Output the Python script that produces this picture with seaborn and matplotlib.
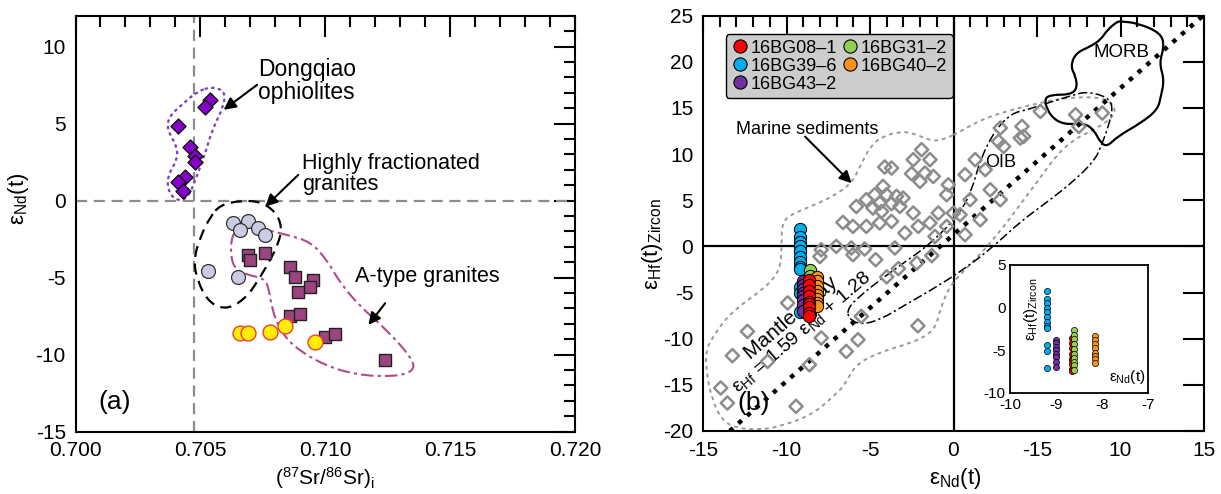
import matplotlib
matplotlib.use("Agg")
import matplotlib.pyplot as plt
import seaborn as sns
from matplotlib.path import Path
from matplotlib.patches import PathPatch
from matplotlib.lines import Line2D
from matplotlib.ticker import MultipleLocator

# ---------------- Panel (a) data ----------------
dq_sr = [0.7054, 0.7052, 0.7041, 0.7046, 0.7048, 0.7048, 0.7044, 0.7041, 0.7043]
dq_nd = [6.5, 6.1, 4.85, 3.5, 2.9, 2.5, 1.55, 1.2, 0.65]

hfg_sr = [0.7063, 0.7069, 0.7066, 0.7073, 0.7076, 0.7053, 0.7065]
hfg_nd = [-1.45, -1.3, -1.9, -1.8, -2.25, -4.55, -4.95]

atype_sr = [0.7069, 0.7070, 0.7076, 0.7086, 0.7088, 0.7095, 0.7094, 0.7089,
            0.7086, 0.7090, 0.7100, 0.7104, 0.7124]
atype_nd = [-3.5, -3.85, -3.4, -4.3, -4.95, -5.15, -5.6, -5.95,
            -7.5, -7.35, -8.85, -8.65, -10.35]

yel_sr = [0.7066, 0.7069, 0.7078, 0.7084, 0.7096]
yel_nd = [-8.6, -8.6, -8.5, -8.15, -9.15]

dq_env_sr = [0.70547, 0.7060, 0.70593, 0.70547, 0.7052, 0.7048, 0.70453, 0.70413,
             0.70373, 0.70367, 0.70407, 0.70407, 0.70367, 0.70373, 0.70433, 0.70487]
dq_env_nd = [7.40, 7.08, 6.10, 4.59, 3.08, 1.34, 0.26, -0.06,
             0.48, 1.56, 2.64, 3.51, 4.59, 5.45, 6.32, 7.08]

hfg_env_sr = [0.7058, 0.7066, 0.7074, 0.7080, 0.70827, 0.70813, 0.7078, 0.7074,
              0.70693, 0.70633, 0.7058, 0.70527, 0.70487, 0.70473, 0.7050, 0.7054]
hfg_env_nd = [-0.28, 0.0, -0.06, -0.71, -1.69, -2.77, -3.85, -4.94,
              -6.12, -6.88, -6.99, -6.45, -5.15, -3.85, -2.34, -1.04]

at_env_sr = [0.70633, 0.70687, 0.70767, 0.70847, 0.7094, 0.71007, 0.7106, 0.7114,
             0.71247, 0.71353, 0.71353, 0.71273, 0.71127, 0.70993, 0.70873, 0.7082,
             0.70787, 0.70773, 0.70753, 0.70687, 0.70633, 0.7062, 0.70627]
at_env_nd = [-2.12, -1.69, -1.90, -2.23, -2.66, -3.85, -5.36, -6.88,
             -8.40, -10.34, -11.10, -11.43, -11.32, -10.67, -9.48, -8.40,
             -7.10, -5.58, -5.04, -4.82, -4.39, -3.20, -2.44]

sr_ref_line = 0.70475

# ---------------- Panel (b) data ----------------
sed_nd = [-1.91, -1.41, -2.41, -4.12, -3.71, -2.51, -1.71, -1.21, -2.01, -0.31,
          -4.22, -4.72, -4.01, -3.41, -3.02, -0.41, -5.22, -4.42, -3.71, -3.21,
          -4.82, -4.31, -5.82, -2.41, -0.91, -6.62, -6.02, -5.22, -4.42, -3.71,
          -2.91, -2.11, -1.41, -0.41, -7.92, -7.02, -6.12, -5.32, -3.51, -1.11,
          -0.01, 5.20, 7.31, 8.91, 7.51, 4.10, 2.80, 4.20, 2.70, 3.00,
          4.00, 1.30, 1.90, 0.69, 2.20, 2.80, 0.99, 0.39, 1.60, 0.69,
          -9.93, -12.34, -11.13, -13.24, -8.63, -7.92, -6.42, -5.72, -5.52, -6.02,
          -13.94, -13.54, -9.43, -8.0, -4.66, -3.3, -2.2, -1.3, -2.13, -4.0]
sed_hf = [10.48, 9.40, 9.40, 8.60, 8.49, 7.88, 7.95, 7.58, 7.04, 6.68,
          6.50, 5.60, 5.60, 5.42, 5.24, 5.60, 5.06, 4.70, 4.63, 4.33,
          4.16, 3.79, 4.33, 3.62, 3.62, 2.60, 2.17, 2.17, 2.54, 2.71,
          1.45, 2.17, 2.54, 2.17, -0.36, 0.0, -0.17, -0.28, -0.17, 1.08,
          3.62, 14.63, 14.27, 14.45, 13.0, 13.0, 12.83, 11.92, 11.38, 10.83,
          11.74, 9.40, 8.32, 7.77, 6.14, 5.06, 5.06, 3.43, 2.89, 1.27,
          -6.13, -9.21, -12.46, -11.84, -12.82, -9.92, -11.38, -10.11, -7.58, -0.90,
          -15.34, -16.97, -17.33, -1.1, -1.44, -2.4, -1.8, -1.0, -8.6, -3.3]

s08_nd = [-8.65, -8.65, -8.65, -8.65, -8.65, -8.65, -8.65, -8.65, -8.65]
s08_hf = [-3.6, -4.2, -4.8, -5.4, -6.0, -6.2, -6.6, -7.2, -7.5]
s31_nd = [-8.6, -8.6, -8.6, -8.6, -8.6, -8.6, -8.6, -8.6, -8.6, -8.6]
s31_hf = [-2.6, -3.2, -3.7, -4.3, -4.9, -5.4, -5.9, -6.4, -6.8, -7.3]
s39_nd = [-9.2, -9.2, -9.2, -9.2, -9.2, -9.2, -9.2, -9.2, -9.2, -9.2, -9.2, -9.2]
s39_hf = [1.9, 1.0, 0.5, 0.0, -0.5, -1.1, -1.7, -2.2, -2.4, -4.4, -5.1, -7.1]
s40_nd = [-8.15, -8.15, -8.15, -8.15, -8.15, -8.15, -8.15, -8.15]
s40_hf = [-3.3, -3.8, -4.3, -4.8, -5.3, -5.7, -6.1, -6.5]
s43_nd = [-9.0, -9.0, -9.0, -9.0, -9.0, -9.0, -9.0, -9.0]
s43_hf = [-3.8, -4.2, -4.6, -5.0, -5.4, -5.8, -6.4, -7.0]

sample_labels = ["16BG08–1", "16BG39–6", "16BG43–2", "16BG31–2", "16BG40–2"]
sample_colors = ["#ff0000", "#00aeef", "#7030a0", "#92d050", "#f7941d"]

mantle_nd = [-13.4, 15.0]
mantle_hf = [-20.0, 25.1]

sed_env_nd = [0.39, 1.99, 5.36, 7.38, 9.17, 9.77, 9.37, 8.37, 7.16, 6.18,
              5.18, 3.98, 2.49, 0.99, -0.21, -0.81, -1.11, -2.31, -4.40, -5.90,
              -6.50, -7.10, -8.44, -10.28, -11.59, -13.08, -13.86, -14.46, -14.82, -14.82,
              -14.40, -13.38, -11.19, -10.39, -10.29, -10.29, -9.99, -8.59, -7.22, -6.10,
              -5.60, -5.00, -4.30, -3.20, -2.43, -1.23, -0.41]
sed_env_hf = [12.44, 14.06, 15.69, 16.23, 16.06, 14.79, 13.71, 12.62, 11.54, 9.91,
              7.42, 4.50, 0.92, -2.00, -4.17, -6.88, -9.05, -10.35, -11.43, -12.84,
              -15.00, -16.09, -18.22, -19.45, -19.88, -19.66, -18.80, -16.63, -13.38, -11.21,
              -9.77, -7.20, -4.36, -2.55, -0.38, 2.15, 3.23, 4.31, 5.40, 6.85,
              8.65, 10.81, 11.90, 12.44, 12.30, 11.35, 11.72]

oib_env_nd = [-6.32, -5.60, -4.40, -2.90, -1.23, 0.39, 1.11, 1.59, 2.49, 3.49,
              4.38, 5.58, 7.17, 7.98, 9.17, 9.57, 9.27, 8.87, 8.47, 7.28,
              5.78, 3.98, 2.49, 0.99, -0.81, -2.90, -4.40, -5.60, -6.32]
oib_env_hf = [-6.66, -5.36, -3.63, -1.68, 0.49, 3.63, 6.12, 9.37, 12.62, 14.43,
              14.79, 15.51, 16.41, 16.77, 16.23, 15.15, 12.98, 11.00, 9.37, 7.20,
              5.04, 2.65, 0.16, -2.00, -4.17, -6.34, -7.96, -8.50, -7.75]

morb_env_nd = [10.01, 11.02, 12.42, 12.62, 12.32, 12.62, 12.42, 12.22, 11.22, 9.82,
               9.22, 8.81, 8.41, 7.81, 6.61, 5.81, 5.40, 5.81, 7.01, 7.41,
               7.31, 7.01, 7.31, 8.20, 8.81, 9.22, 9.82]
morb_env_hf = [24.38, 24.20, 23.12, 21.67, 19.87, 18.06, 16.25, 14.81, 13.37, 11.92,
               10.83, 11.20, 12.64, 13.37, 13.19, 14.08, 15.89, 16.44, 16.44, 17.16,
               18.42, 19.50, 20.95, 21.67, 22.39, 23.48, 24.38]

right_xticks = [-15, -10, -5, 0, 5, 10, 15]
right_xticklabels = ["-15", "-10", "-5", "0", "-15", "10", "15"]

# ---------------- style ----------------
sns.set_theme(style="white")
plt.rcParams["font.family"] = ["Liberation Sans", "DejaVu Sans"]
plt.rcParams["mathtext.fontset"] = "custom"
plt.rcParams["mathtext.rm"] = "Liberation Sans"
plt.rcParams["mathtext.it"] = "Liberation Sans:italic"
plt.rcParams["mathtext.bf"] = "Liberation Sans:bold"
plt.rcParams["axes.unicode_minus"] = False
plt.rcParams["text.color"] = "black"
plt.rcParams["axes.labelcolor"] = "black"
plt.rcParams["xtick.color"] = "black"
plt.rcParams["ytick.color"] = "black"

W, H = 1221, 494
fig = plt.figure(figsize=(W / 100, H / 100), dpi=100)
axA = fig.add_axes([75.5 / W, 1 - 431.7 / H, (575 - 75.5) / W, (431.7 - 15.7) / H])
axB = fig.add_axes([703 / W, 1 - 431 / H, (1204 - 703) / W, (431 - 15.7) / H])


def envelope(ax, xs, ys, **kw):
    pts = list(zip(xs, ys))
    n = len(pts)
    mids = [((pts[i][0] + pts[(i + 1) % n][0]) / 2, (pts[i][1] + pts[(i + 1) % n][1]) / 2)
            for i in range(n)]
    verts = [mids[-1]]
    codes = [Path.MOVETO]
    for i in range(n):
        verts += [pts[i], mids[i]]
        codes += [Path.CURVE3, Path.CURVE3]
    ax.add_patch(PathPatch(Path(verts, codes), fill=False, **kw))


def frame(ax, lw=1.5):
    for s in ax.spines.values():
        s.set_visible(True)
        s.set_color("black")
        s.set_linewidth(lw)


# ---------------- Panel (a) ----------------
axA.axvline(sr_ref_line, color="#8c8c8c", lw=1.6, ls=(0, (5, 3)), zorder=1)
axA.axhline(0, color="#8c8c8c", lw=1.6, ls=(0, (5, 3)), zorder=1)

envelope(axA, dq_env_sr, dq_env_nd, edgecolor="#7b3fb5", lw=1.6, ls=(0, (1.5, 1.5)), zorder=2)
envelope(axA, hfg_env_sr, hfg_env_nd, edgecolor="black", lw=1.6, ls=(0, (5, 3)), zorder=2)
envelope(axA, at_env_sr, at_env_nd, edgecolor="#b04a8c", lw=1.5, ls=(0, (6, 2, 1.5, 2)), zorder=2)

sns.scatterplot(x=hfg_sr, y=hfg_nd, ax=axA, marker="o", s=100, color="#cbcbe4",
                edgecolor="#333333", linewidth=0.9, zorder=3, legend=False)
sns.scatterplot(x=atype_sr, y=atype_nd, ax=axA, marker="s", s=72, color="#9c447f",
                edgecolor="#222222", linewidth=1.0, zorder=4, legend=False)
sns.scatterplot(x=yel_sr, y=yel_nd, ax=axA, marker="o", s=115, color="#ffee00",
                edgecolor="#ee4030", linewidth=1.0, zorder=5, legend=False)
sns.scatterplot(x=dq_sr, y=dq_nd, ax=axA, marker="D", s=58, color="#8800cc",
                edgecolor="#111111", linewidth=1.0, zorder=5, legend=False)

arrow = dict(arrowstyle="-|>", color="black", lw=1.5, mutation_scale=18, shrinkA=0, shrinkB=0)
axA.text(0.70732, 7.74, "Dongqiao\nophiolites", fontsize=16.5, ha="left", va="center",
         linespacing=1.0)
axA.annotate("", xy=(0.70593, 5.89), xytext=(0.70727, 7.51), arrowprops=arrow)
axA.text(0.70907, 1.75, "Highly fractionated\ngranites", fontsize=15.5, ha="left",
         va="center", linespacing=1.0)
axA.annotate("", xy=(0.7076, -0.39), xytext=(0.70892, 1.67), arrowprops=arrow)
axA.text(0.7112, -4.94, "A-type granites", fontsize=15.5, ha="left", va="center")
axA.annotate("", xy=(0.71173, -8.07), xytext=(0.7124, -6.66), arrowprops=arrow)
axA.text(0.70092, -13.1, "(a)", fontsize=19, ha="left", va="center")

axA.set_xlim(0.700, 0.720)
axA.set_ylim(-15, 12)
axA.xaxis.set_major_locator(MultipleLocator(0.005))
axA.xaxis.set_minor_locator(MultipleLocator(0.001))
axA.yaxis.set_major_locator(MultipleLocator(5))
axA.yaxis.set_minor_locator(MultipleLocator(1))
axA.set_xticks([0.700, 0.705, 0.710, 0.715, 0.720],
               labels=["0.700", "0.705", "0.710", "0.715", "0.720"])
axA.set_yticks([-15, -10, -5, 0, 5, 10], labels=["-15", "-10", "-5", "0", "5", "10"])
axA.tick_params(which="both", direction="in", top=True, right=True, width=1.5,
                color="black", labelsize=15, labelcolor="black")
axA.tick_params(which="major", length=15)
axA.tick_params(which="minor", length=8)
axA.tick_params(axis="x", pad=7)
axA.tick_params(axis="y", pad=7)
axA.set_xlabel(r"($^{\mathregular{87}}$Sr/$^{\mathregular{86}}$Sr)$_{\mathregular{i}}$",
               fontsize=15)
axA.xaxis.set_label_coords(0.5, -0.08)
axA.set_ylabel(r"ε$_{\mathregular{Nd}}$(t)", fontsize=16)
axA.yaxis.set_label_coords(-0.09, 0.56)
frame(axA)

# ---------------- Panel (b) ----------------
axB.axhline(0, color="black", lw=1.6, zorder=1)
axB.axvline(0, color="black", lw=1.6, zorder=1)

envelope(axB, sed_env_nd, sed_env_hf, edgecolor="#9a9a9a", lw=1.4, ls=(0, (2, 2)), zorder=2)
envelope(axB, oib_env_nd, oib_env_hf, edgecolor="black", lw=1.1, ls=(0, (6, 2, 1.5, 2)), zorder=2)
envelope(axB, morb_env_nd, morb_env_hf, edgecolor="black", lw=1.6, zorder=2)

sns.lineplot(x=mantle_nd, y=mantle_hf, ax=axB, color="black", lw=3.2,
             ls=(0, (1, 1.6)), zorder=2, legend=False)

axB.text(-9.7, -7.8, "Mantle array", fontsize=15, rotation=40.5, rotation_mode="anchor",
         ha="center", va="center", zorder=2)
axB.text(-9.1, -9.3, r"ε$_{\mathregular{Hf}}$ = 1.59 ε$_{\mathregular{Nd}}$ + 1.28", fontsize=14,
         rotation=40.5, rotation_mode="anchor", ha="center", va="center", zorder=2)
axB.text(-12.0, -17.0, "(b)", fontsize=19, ha="center", va="center", zorder=2)
axB.text(-13.02, 12.7, "Marine sediments", fontsize=13, ha="left", va="center")
axB.annotate("", xy=(-6.10, 6.85), xytext=(-8.89, 11.9), arrowprops=arrow)
axB.text(2.84, 9.05, "OIB", fontsize=13, ha="center", va="center")
axB.text(10.03, 20.96, "MORB", fontsize=13.5, ha="center", va="center")

sns.scatterplot(x=sed_nd, y=sed_hf, ax=axB, marker="D", s=45, color="#8c8c8c",
                facecolor="none", edgecolor="#8c8c8c", linewidth=1.8, zorder=3, legend=False)

big = [(s39_nd, s39_hf, 1), (s43_nd, s43_hf, 2), (s31_nd, s31_hf, 3),
       (s40_nd, s40_hf, 4), (s08_nd, s08_hf, 0)]
for xs, ys, ci in big:
    sns.scatterplot(x=xs, y=ys, ax=axB, marker="o", s=78, color=sample_colors[ci],
                    edgecolor="black", linewidth=0.7, zorder=5, legend=False)

handles = [Line2D([], [], marker="o", ls="none", markersize=9.5, markerfacecolor=c,
                  markeredgecolor="black", markeredgewidth=0.8) for c in sample_colors]
leg = axB.legend(handles, sample_labels, ncol=2, loc="upper left",
                 bbox_to_anchor=(0.045, 0.955), borderaxespad=0, fontsize=13,
                 frameon=True, fancybox=True, facecolor="#cccccc", edgecolor="black",
                 framealpha=1, labelspacing=0.05, handletextpad=0.1, columnspacing=0.2,
                 handlelength=1.0, borderpad=0.3)
leg.get_frame().set_linewidth(1.0)
leg.set_zorder(6)

axB.set_xlim(-15, 15)
axB.set_ylim(-20, 25)
axB.set_xticks(right_xticks, labels=right_xticklabels)
axB.xaxis.set_minor_locator(MultipleLocator(1))
axB.set_yticks([-20, -15, -10, -5, 0, 5, 10, 15, 20, 25],
               labels=["-20", "-15", "-10", "-5", "0", "5", "10", "15", "20", "25"])
axB.tick_params(which="both", direction="in", top=True, right=True, width=1.5,
                color="black", labelsize=15, labelcolor="black")
axB.tick_params(which="major", length=15)
axB.tick_params(which="minor", length=8)
axB.tick_params(axis="x", pad=7)
axB.tick_params(axis="y", pad=7)
axB.set_xlabel(r"ε$_{\mathregular{Nd}}$(t)", fontsize=16)
axB.xaxis.set_label_coords(0.503, -0.085)
axB.set_ylabel(r"ε$_{\mathregular{Hf}}$(t)$_{\mathregular{Zircon}}$", fontsize=16)
axB.yaxis.set_label_coords(-0.076, 0.45)
frame(axB)

# ---------------- Inset ----------------
axI = fig.add_axes([1010 / W, 1 - 392.7 / H, 138 / W, 127.7 / H])
axI.set_facecolor("white")
inset = [(s39_nd, s39_hf, 1), (s43_nd, s43_hf, 2), (s08_nd, s08_hf, 0),
         (s31_nd, s31_hf, 3), (s40_nd, s40_hf, 4)]
for xs, ys, ci in inset:
    sns.scatterplot(x=xs, y=ys, ax=axI, marker="o", s=20, color=sample_colors[ci],
                    edgecolor="black", linewidth=0.5, zorder=3, legend=False)
axI.set_xlim(-10, -7)
axI.set_ylim(-10, 5)
axI.set_xticks([-10, -9, -8, -7], labels=["-10", "-9", "-8", "-7"])
axI.set_yticks([-10, -5, 0, 5], labels=["-10", "-5", "0", "5"])
axI.xaxis.set_minor_locator(MultipleLocator(0.2))
axI.yaxis.set_minor_locator(MultipleLocator(1))
axI.tick_params(which="both", direction="in", top=False, right=False, width=1.0,
                color="black", labelsize=11, labelcolor="black")
axI.tick_params(axis="x", pad=4)
axI.tick_params(axis="y", pad=3)
axI.tick_params(which="major", length=6)
axI.tick_params(which="minor", length=3.5)
axI.text(0.15, 0.65, r"ε$_{\mathregular{Hf}}$(t)$_{\mathregular{Zircon}}$", rotation=90,
         fontsize=11, ha="center", va="center", transform=axI.transAxes)
axI.text(0.85, 0.125, r"ε$_{\mathregular{Nd}}$(t)", fontsize=11, ha="center", va="center",
         transform=axI.transAxes)
frame(axI, lw=1.3)

fig.savefig("out.png", dpi=100)
